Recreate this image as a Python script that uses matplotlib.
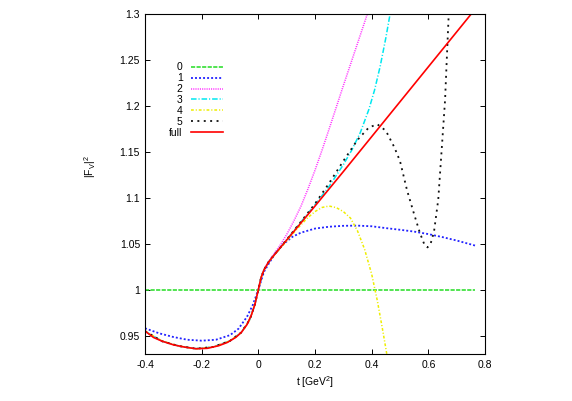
import matplotlib
matplotlib.use("Agg")
import matplotlib.pyplot as plt

plt.rcParams['font.family'] = ['Liberation Sans Narrow', 'Liberation Sans', 'DejaVu Sans']
plt.rcParams['mathtext.default'] = 'regular'
plt.rcParams['lines.scale_dashes'] = False

# order 0 .. 5 and the full result, |F_V|^2 against t
t0 = [-0.40, 0.765]
f0 = [1.0, 1.0]

t1 = [-0.40, -0.35, -0.30, -0.25, -0.20, -0.15, -0.10, -0.07, -0.04, -0.02, 0.0, 0.02, 0.04,
      0.06, 0.09, 0.12, 0.15, 0.20, 0.25, 0.30, 0.35, 0.40, 0.45, 0.50, 0.55, 0.60, 0.65, 0.70, 0.765]
f1 = [0.958, 0.9525, 0.9485, 0.9455, 0.9445, 0.9455, 0.9505, 0.9575, 0.9705, 0.983, 1.0, 1.0195, 1.030,
      1.0395, 1.050, 1.0575, 1.062, 1.0665, 1.0685, 1.0695, 1.0697, 1.069, 1.067, 1.0652, 1.0632, 1.0605,
      1.0572, 1.0535, 1.048]

t2 = [-0.40, -0.34, -0.28, -0.22, -0.16, -0.10, -0.06, -0.03, -0.012, 0.0, 0.01, 0.02, 0.035, 0.05,
      0.075, 0.10, 0.125, 0.15, 0.175, 0.20, 0.225, 0.25, 0.275, 0.30, 0.325, 0.35, 0.375, 0.40]
f2 = [0.9545, 0.9438, 0.9385, 0.9358, 0.9375, 0.9442, 0.9533, 0.9675, 0.9842, 1.0, 1.0136, 1.0218, 1.0302,
      1.0368, 1.0475, 1.0600, 1.0745, 1.0905, 1.1095, 1.1300, 1.1520, 1.1750, 1.1985, 1.2220, 1.2450,
      1.2680, 1.2910, 1.3145]

t3 = [-0.40, -0.34, -0.28, -0.22, -0.16, -0.10, -0.06, -0.03, -0.012, 0.0, 0.01, 0.02, 0.035, 0.05,
      0.075, 0.10, 0.15, 0.20, 0.25, 0.30, 0.33, 0.36, 0.39, 0.41, 0.43, 0.45, 0.465, 0.48]
f3 = [0.9548, 0.9440, 0.9386, 0.9358, 0.9376, 0.9443, 0.9534, 0.9676, 0.9841, 1.0, 1.0135, 1.0216, 1.0297,
      1.0358, 1.0450, 1.0545, 1.0735, 1.0925, 1.1125, 1.1360, 1.1520, 1.1710, 1.1960, 1.2170, 1.2430,
      1.2740, 1.3000, 1.3290]

t4 = [-0.40, -0.34, -0.28, -0.22, -0.16, -0.10, -0.06, -0.03, -0.012, 0.0, 0.01, 0.02, 0.035, 0.05,
      0.075, 0.10, 0.125, 0.15, 0.175, 0.20, 0.225, 0.25, 0.275, 0.30, 0.325, 0.35, 0.375, 0.40, 0.42,
      0.44, 0.46]
f4 = [0.9550, 0.9441, 0.9387, 0.9357, 0.9377, 0.9442, 0.9534, 0.9676, 0.9841, 1.0, 1.0135, 1.0215, 1.0294,
      1.0353, 1.0440, 1.0530, 1.0620, 1.0705, 1.0785, 1.0850, 1.0895, 1.0910, 1.0893, 1.0850, 1.0780,
      1.0640, 1.0440, 1.0170, 0.9880, 0.9540, 0.9180]

t5 = [-0.40, -0.34, -0.28, -0.22, -0.16, -0.10, -0.06, -0.03, -0.012, 0.0, 0.01, 0.02, 0.035, 0.05,
      0.075, 0.10, 0.15, 0.20, 0.25, 0.30, 0.35, 0.39, 0.42, 0.45, 0.48, 0.50, 0.525, 0.55, 0.57, 0.585,
      0.597, 0.608, 0.62, 0.635, 0.647, 0.659, 0.665, 0.672, 0.678]
f5 = [0.9549, 0.9439, 0.9386, 0.9358, 0.9376, 0.9443, 0.9535, 0.9675, 0.9841, 1.0, 1.0135, 1.0216, 1.0296,
      1.0357, 1.0449, 1.0545, 1.0738, 1.0935, 1.1160, 1.1400, 1.1630, 1.1765, 1.1800, 1.1730, 1.1550,
      1.1400, 1.1080, 1.0820, 1.0620, 1.0500, 1.0460, 1.0500, 1.0630, 1.0980, 1.1520, 1.2060, 1.2500,
      1.3000, 1.3400]

t_full = [-0.40, -0.37, -0.34, -0.30, -0.26, -0.22, -0.18, -0.14, -0.11, -0.08, -0.06, -0.04, -0.025,
          -0.012, 0.0, 0.01, 0.02, 0.035, 0.05, 0.07, 0.10, 0.15, 0.20, 0.30, 0.40, 0.50, 0.60, 0.70, 0.765]
f_full = [0.955, 0.948, 0.944, 0.940, 0.9375, 0.9357, 0.9362, 0.9390, 0.9425, 0.9480, 0.9535, 0.9620,
          0.9720, 0.9840, 1.000, 1.0135, 1.0215, 1.0295, 1.0355, 1.0430, 1.0540, 1.0725, 1.0910, 1.1285,
          1.1665, 1.2045, 1.2425, 1.2805, 1.3052]

xticks = [-0.4, -0.2, 0, 0.2, 0.4, 0.6, 0.8]
xticklabels = ['-0.4', '-0.2', '0', '0.2', '0.4', '0.6', '0.8']
yticks = [0.95, 1.0, 1.05, 1.1, 1.15, 1.2, 1.25, 1.3]
yticklabels = ['0.95', '1', '1.05', '1.1', '1.15', '1.2', '1.25', '1.3']

fs = 7.5
fig = plt.figure(figsize=(5.72, 4.01), dpi=100)
ax = fig.add_axes([145 / 572, 47 / 401, 340 / 572, 340 / 401])

ax.plot(t0, f0, color='#22dd22', lw=1.1, dashes=(3.0, 1.0), label='0')
ax.plot(t1, f1, color='#2222ff', lw=1.3, dashes=(1.4, 1.5), label='1')
ax.plot(t2, f2, color='#ff33ff', lw=1.1, dashes=(0.8, 0.8), label='2')
ax.plot(t3, f3, color='#00e8f0', lw=1.1, dashes=(4.0, 1.4, 0.8, 1.4), label='3')
ax.plot(t4, f4, color='#eeee00', lw=1.1, dashes=(2.0, 1.4, 0.8, 1.4), label='4')
ax.plot(t5, f5, color='#111111', lw=1.3, dashes=(1.4, 3.2), label='5')
ax.plot(t_full, f_full, color='#ff0000', lw=1.2, label='full')

ax.set_xlim(-0.4, 0.8)
ax.set_ylim(0.93, 1.3)
ax.set_xticks(xticks)
ax.set_xticklabels(xticklabels, fontsize=fs)
ax.set_yticks(yticks)
ax.set_yticklabels(yticklabels, fontsize=fs)
ax.tick_params(direction='in', top=True, right=True, length=3.6, width=0.7)
ax.tick_params(axis='x', pad=4.5)
ax.tick_params(axis='y', pad=3.6)
for s in ax.spines.values():
    s.set_linewidth(0.8)

ax.set_xlabel('t [GeV$^2$]', fontsize=fs, labelpad=3)
ax.set_ylabel('|F$_V$|$^2$', fontsize=fs)
ax.yaxis.set_label_coords(-0.137, 0.55)

ax.legend(loc='upper right', bbox_to_anchor=(0.229, 0.858), frameon=False, markerfirst=False,
          fontsize=fs, handlelength=3.1, handletextpad=0.75, labelspacing=0.09, borderpad=0,
          borderaxespad=0)

fig.savefig('out.png', dpi=100)
